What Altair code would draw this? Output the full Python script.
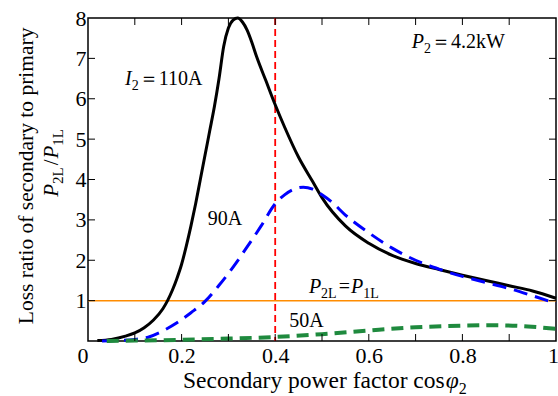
import altair as alt
import pandas as pd

# ---------------- data ----------------
x110 = [0.02, 0.05, 0.08, 0.10, 0.12, 0.14, 0.16, 0.17, 0.18, 0.19, 0.20, 0.21, 0.22,
        0.23, 0.24, 0.25, 0.26, 0.27, 0.28, 0.29, 0.30, 0.31, 0.32, 0.33, 0.34, 0.35,
        0.36, 0.38, 0.40, 0.42, 0.45, 0.48, 0.50, 0.55, 0.60, 0.65, 0.70, 0.75, 0.80,
        0.85, 0.90, 0.95, 1.00]
y110 = [0.01, 0.04, 0.12, 0.20, 0.33, 0.52, 0.80, 1.00, 1.25, 1.55, 1.90, 2.35, 2.85,
        3.40, 4.00, 4.60, 5.20, 5.80, 6.50, 7.30, 7.75, 7.95, 8.00, 7.90, 7.70, 7.40,
        7.05, 6.45, 5.85, 5.30, 4.55, 3.95, 3.55, 2.85, 2.42, 2.12, 1.92, 1.77, 1.63,
        1.50, 1.37, 1.24, 1.06]

x90 = [0.03, 0.06, 0.10, 0.13, 0.16, 0.19, 0.22, 0.25, 0.28, 0.31, 0.34, 0.37, 0.40,
       0.42, 0.44, 0.46, 0.48, 0.50, 0.52, 0.55, 0.60, 0.65, 0.70, 0.75, 0.80, 0.85,
       0.90, 0.95, 1.00]
y90 = [0.00, 0.01, 0.04, 0.10, 0.25, 0.45, 0.70, 0.98, 1.38, 1.83, 2.33, 2.85, 3.40,
       3.62, 3.76, 3.81, 3.76, 3.62, 3.45, 3.12, 2.68, 2.30, 2.00, 1.78, 1.60, 1.45,
       1.30, 1.12, 0.93]

x50 = [0.04, 0.10, 0.20, 0.30, 0.40, 0.50, 0.60, 0.70, 0.80, 0.87, 0.94, 1.00]
y50 = [0.00, 0.01, 0.03, 0.06, 0.10, 0.17, 0.26, 0.34, 0.38, 0.39, 0.36, 0.30]

ref_ratio = [1.0]      # P2L = P1L
ref_pf = [0.4]         # vertical dashed line

x_labels = [0, 0.2, 0.4, 0.6, 0.8, 1.0]
y_labels = [1, 2, 3, 4, 5, 6, 7, 8]
x_minor = [0.1, 0.2, 0.3, 0.4, 0.5, 0.6, 0.7, 0.8, 0.9]
y_minor = [1, 2, 3, 4, 5, 6, 7]

# ---------------- layout ----------------
W, H = 468, 323
PX = 1.0 / W
PY = 8.0 / H
SERIF = "Liberation Serif"

XS = alt.Scale(domain=[0, 1], nice=False, zero=False)
YS = alt.Scale(domain=[0, 8], nice=False, zero=False)

AX = alt.Axis(values=x_labels, format="~g", title=None, grid=False, ticks=False,
              domain=False, labelFont=SERIF, labelFontSize=22, labelColor="black",
              labelPadding=4,
              labelAlign={"expr": "datum.value == 0 ? 'right' : 'center'"},
              labelOffset={"expr": "datum.value == 1 ? -3 : 0"})
AY = alt.Axis(values=y_labels, format="d", title=None, grid=False, ticks=False,
              domain=False, labelFont=SERIF, labelFontSize=22, labelColor="black",
              labelPadding=2)


def X(field):
    return alt.X(field, scale=XS, axis=AX)


def Y(field):
    return alt.Y(field, scale=YS, axis=AY)


REG = {' ': 250, '.': 250, '/': 278, '=': 564, '＝': 1000, 'A': 722, 'L': 611, 'P': 556,
       'S': 556, 'W': 944, 'a': 444, 'c': 444, 'd': 500, 'e': 444, 'f': 333, 'i': 278,
       'k': 500, 'm': 778, 'n': 500, 'o': 500, 'p': 500, 'r': 333, 's': 389, 't': 278,
       'w': 722, 'y': 500}
ITA = {'I': 333, 'P': 611, 'φ': 560}


def measure(s, size, italic):
    t = ITA if italic else REG
    return sum(t.get(c, 500) for c in s) * size / 1000.0


def rich(pieces, x0, y0, size, sub, rotate=False):
    rows = []
    pos = 0.0
    for text, kind, pre, post in pieces:
        pos += pre
        fs = sub if kind == "s" else size
        shift = 0.25 * size if kind == "s" else 0.0
        if rotate:
            rows.append(dict(x=x0 + shift * PX, y=y0 + pos * PY, t=text, k=kind))
        else:
            rows.append(dict(x=x0 + pos * PX, y=y0 - shift * PY, t=text, k=kind))
        pos += measure(text, fs, kind == "i") + post
    return rows


def text_layers(rows, size, sub, angle=0):
    df = pd.DataFrame(rows)
    out = []
    for kind, fs, style in (("n", size, "normal"), ("i", size, "italic"), ("s", sub, "normal")):
        d = df[df.k == kind].reset_index(drop=True)
        if len(d) == 0:
            continue
        out.append(
            alt.Chart(d).mark_text(align="left", baseline="alphabetic", font=SERIF,
                                   fontSize=fs, fontStyle=style, angle=angle, color="black")
            .encode(x=X("x:Q"), y=Y("y:Q"), text="t:N")
        )
    return out


# ---------------- curves ----------------
df110 = pd.DataFrame({"x": x110, "y": y110})
df90 = pd.DataFrame({"x": x90, "y": y90})
df50 = pd.DataFrame({"x": x50, "y": y50})

black = alt.Chart(df110).mark_line(color="black", strokeWidth=3, interpolate="monotone").encode(
    x=X("x:Q"), y=Y("y:Q"))
blue = alt.Chart(df90).mark_line(color="#0000ff", strokeWidth=3, strokeDash=[14, 8],
                                 interpolate="monotone").encode(x=X("x:Q"), y=Y("y:Q"))
green = alt.Chart(df50).mark_line(color="#1f8a3e", strokeWidth=4, strokeDash=[12, 7],
                                  interpolate="monotone").encode(x=X("x:Q"), y=Y("y:Q"))

orange = alt.Chart(pd.DataFrame({"y": ref_ratio})).mark_rule(color="#ff8c00", strokeWidth=1.5).encode(
    y=Y("y:Q"))
red = alt.Chart(pd.DataFrame({"x": ref_pf})).mark_rule(color="#ff0000", strokeWidth=1.8,
                                                        strokeDash=[7, 4]).encode(x=X("x:Q"))

# ---------------- inward ticks ----------------
dfx = pd.DataFrame({"v": x_minor})
dfy = pd.DataFrame({"v": y_minor})
TL = 7
ticks = [
    alt.Chart(dfx).mark_rule(color="black", strokeWidth=1).encode(
        x=X("v:Q"), y=alt.value(H), y2=alt.value(H - TL)),
    alt.Chart(dfx).mark_rule(color="black", strokeWidth=1).encode(
        x=X("v:Q"), y=alt.value(0), y2=alt.value(TL)),
    alt.Chart(dfy).mark_rule(color="black", strokeWidth=1).encode(
        y=Y("v:Q"), x=alt.value(0), x2=alt.value(TL)),
    alt.Chart(dfy).mark_rule(color="black", strokeWidth=1).encode(
        y=Y("v:Q"), x=alt.value(W), x2=alt.value(W - TL)),
]

# ---------------- text ----------------
ann = []
ann += rich([("I", "i", 0, 0), ("2", "s", 0, 0), ("＝", "n", 0, 0), ("110A", "n", 0, 0)],
            0.079, 6.34, 20, 14)
ann += rich([("P", "i", 0, 0), ("2", "s", 0, 0), ("＝", "n", 0, 0), ("4.2kW", "n", 0, 0)],
            0.692, 7.26, 20, 14)
ann += rich([("90A", "n", 0, 0)], 0.256, 2.87, 20, 14)
ann += rich([("P", "i", 0, 0), ("2L", "s", 0, 2), ("=", "n", 0, 1), ("P", "i", 0, 0),
             ("1L", "s", 0, 0)], 0.472, 1.19, 20, 14)
ann += rich([("50A", "n", 0, 0)], 0.43, 0.35, 20, 14)

xtitle = rich([("Secondary power factor cos", "n", 0, 0), ("φ", "i", 1, 0), ("2", "s", 0, 0)],
              0.203, -1.164, 23.5, 16)
ytitle2 = rich([("P", "i", 0, 0), ("2L", "s", 0, 1), ("/", "n", 1, 1), ("P", "i", 0, 0),
                ("1L", "s", 0, 0)], -0.064, 3.57, 21, 15, rotate=True)

ytitle1 = alt.Chart(pd.DataFrame({"x": [-0.1175], "y": [4.09],
                                  "t": ["Loss ratio of secondary to primary"]})).mark_text(
    align="center", baseline="alphabetic", font=SERIF, fontSize=21.5, angle=270, color="black"
).encode(x=X("x:Q"), y=Y("y:Q"), text="t:N")

layers = [orange, red, black, blue, green] + ticks
layers += text_layers(ann, 20, 14)
layers += text_layers(xtitle, 23.5, 16)
layers += text_layers(ytitle2, 21, 15, angle=270)
layers.append(ytitle1)

chart = alt.layer(*layers).properties(
    width=W, height=H,
    autosize=alt.AutoSizeParams(type="none"),
    padding={"left": 88, "top": 18, "right": 2, "bottom": 55},
    background="white",
).configure_view(stroke="black", strokeWidth=1.5)

chart.save("out.html", embed_options={"renderer": "svg", "actions": False})
